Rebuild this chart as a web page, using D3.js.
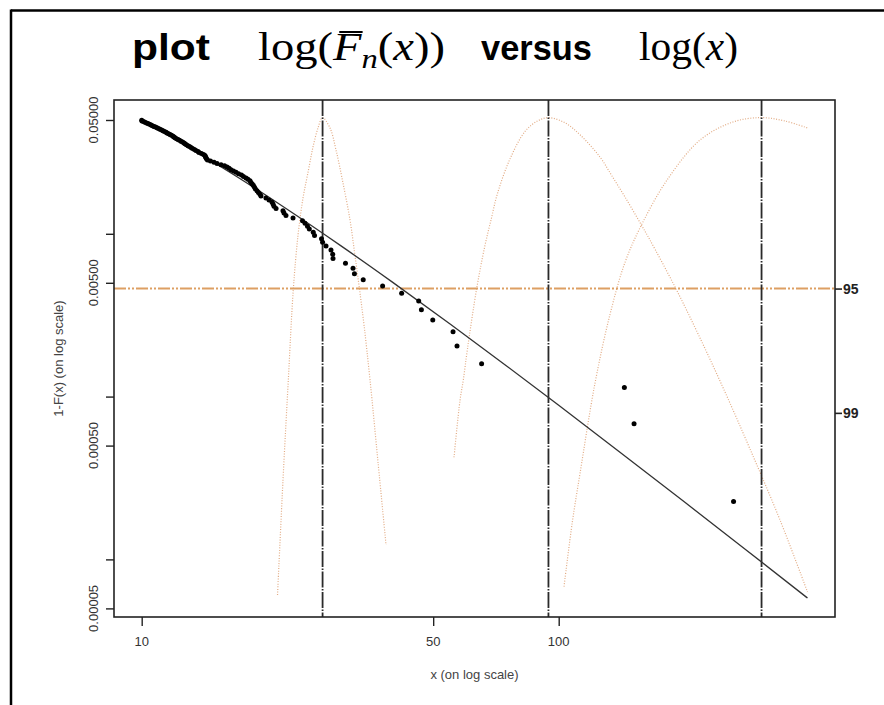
<!DOCTYPE html>
<html><head><meta charset="utf-8">
<script src="https://cdn.jsdelivr.net/npm/d3@7"></script>
<style>body{margin:0;background:#fff}svg{display:block}</style>
</head><body>
<svg id="c" width="884" height="705"></svg>
<script>
// ---------------- data ----------------
// exceedances (ascending) and their empirical tail probabilities 1-F(x)
const exceedX = [10.0,10.02,10.10,10.18,10.27,10.35,10.44,10.53,10.61,10.70,
  10.79,10.88,10.97,11.06,11.16,11.25,11.34,11.44,11.50,11.60,
  11.69,11.79,11.89,11.95,12.02,12.12,12.22,12.32,12.42,12.53,
  12.63,12.70,12.80,12.91,13.02,13.13,13.24,13.38,13.49,13.65,
  13.72,13.91,14.07,14.18,14.22,14.26,14.30,14.38,14.62,14.91,
  15.16,15.50,15.80,16.02,16.20,16.37,16.60,16.83,17.07,17.35,
  17.54,17.79,17.98,18.18,18.28,18.41,18.54,18.64,18.74,18.90,
  19.05,19.21,19.32,19.86,20.20,20.53,20.65,20.76,21.00,21.82,
  21.94,22.18,23.06,24.30,24.64,24.98,25.23,25.79,25.97,26.99,
  27.15,27.67,28.44,28.71,28.76,30.81,32.12,32.37,33.98,37.82,
  42.01,46.16,46.85,49.89,55.80,57.04,65.33,143.7,151.6,262.6];
const tailProb = [0.049773,0.049318,0.048864,0.048409,0.047955,0.047500,0.047045,0.046591,0.046136,0.045682,
  0.045227,0.044773,0.044318,0.043864,0.043409,0.042955,0.042500,0.042045,0.041591,0.041136,
  0.040682,0.040227,0.039773,0.039318,0.038864,0.038409,0.037955,0.037500,0.037045,0.036591,
  0.036136,0.035682,0.035227,0.034773,0.034318,0.033864,0.033409,0.032955,0.032500,0.032045,
  0.031591,0.031136,0.030682,0.030227,0.029773,0.029318,0.028864,0.028409,0.027955,0.027500,
  0.027045,0.026591,0.026136,0.025682,0.025227,0.024773,0.024318,0.023864,0.023409,0.022955,
  0.022500,0.022045,0.021591,0.021136,0.020682,0.020227,0.019773,0.019318,0.018864,0.018409,
  0.017955,0.017500,0.017045,0.016591,0.016136,0.015682,0.015227,0.014773,0.014318,0.013864,
  0.013409,0.012955,0.012500,0.012045,0.011591,0.011136,0.010682,0.010227,0.009773,0.009318,
  0.008864,0.008409,0.007955,0.007500,0.007045,0.006591,0.006136,0.005682,0.005227,0.004773,
  0.004318,0.003864,0.003409,0.002955,0.002500,0.002045,0.001591,0.001136,0.000682,0.000227];

// fitted tail curve
const fitX = [10, 13, 17, 22, 30, 40, 55, 75, 100, 140, 200, 280, 395];
const fitP = [0.05, 0.03396, 0.02226, 0.01450, 0.008456, 0.005029, 0.002782, 0.001542, 0.000884, 0.000457, 0.0002258, 0.0001155, 0.0000579];

// quantile estimates (vertical lines)
const quantileX = [27.15, 94.5, 306.5];

// profile log-likelihood curves (relative to maximum)
const prof1X = [21.17,21.82,22.47,23.10,23.71,24.37,25.09,25.75,26.47,27.14,28.29,29.24,30.39,31.59,32.48,33.26,34.13,35.28,36.87,38.54];
const prof1L = [-5.364,-4.072,-2.948,-1.926,-1.319,-0.903,-0.600,-0.330,-0.117,0,-0.117,-0.364,-0.735,-1.151,-1.555,-1.915,-2.330,-2.948,-3.870,-4.802];
const prof2X = [56.10,57.99,59.05,60.44,63.59,66.57,68.81,71.32,76.41,83.04,88.96,94.51,103.5,112.5,125.6,134.2,144.2,157.9,165.5,190.1,218.2,250.5,287.6,339.4,395.0];
const prof2L = [-3.816,-3.176,-2.948,-2.596,-1.918,-1.434,-1.151,-0.852,-0.465,-0.155,-0.038,0,-0.058,-0.193,-0.443,-0.656,-0.892,-1.207,-1.375,-1.903,-2.476,-3.083,-3.724,-4.521,-5.330];
const prof3X = [102.97,107.9,112.5,122.2,132.8,144.2,157.9,181.9,218.2,261.8,306.5,348.9,395.0];
const prof3L = [-5.270,-4.533,-3.997,-2.983,-2.208,-1.627,-1.207,-0.701,-0.252,-0.049,0,-0.038,-0.116];

// confidence levels (right axis)
const confLevels = [-1.9207, -3.3174];
const confLabels = ["95", "99"];

// axes ticks
const yTicks = [0.05, 0.01, 0.005, 0.001, 0.0005, 0.0001, 0.00005];
const yTickLabels = ["0.05000", "", "0.00500", "", "0.00050", "", "0.00005"];
const xTicks = [10, 50, 100];
const xTickLabels = ["10", "50", "100"];

// ---------------- drawing ----------------
const svg = d3.select("#c");
const L = 114, R = 835, T = 100, B = 617;

const x = d3.scaleLog().domain([8.582, 459.8]).range([L, R]);
const y = d3.scaleLog().domain([0.00004427, 0.06634]).range([B, T]);
const yl = d3.scaleLinear().domain([-5.611, 0.198]).range([B, T]);

const sans = "'Liberation Sans', Arial, Helvetica, sans-serif";
const serif = "'Liberation Serif', 'Times New Roman', serif";

// outer frame
svg.append("line").attr("x1", 11).attr("x2", 884).attr("y1", 10.5).attr("y2", 10.5)
  .attr("stroke", "#000").attr("stroke-width", 2.5);
svg.append("line").attr("x1", 11).attr("x2", 11).attr("y1", 9.5).attr("y2", 705)
  .attr("stroke", "#000").attr("stroke-width", 2.5);

// title
function fit(g, x0, x1) {
  const bb = g.node().getBBox();
  const s = (x1 - x0) / bb.width;
  g.attr("transform", `translate(${x0 - bb.x * s},0) scale(${s},1)`);
}
const tg1 = svg.append("g");
tg1.append("text").attr("x", 0).attr("y", 60).attr("font-family", sans).attr("font-weight", "bold")
  .attr("font-size", 37).attr("fill", "#000").text("plot");
fit(tg1, 132, 210);

const tg2 = svg.append("g");
const mt = tg2.append("text").attr("x", 0).attr("y", 60).attr("font-family", serif)
  .attr("font-size", 40).attr("fill", "#000");
mt.append("tspan").text("log(");
mt.append("tspan").attr("font-style", "italic").text("F");
mt.append("tspan").attr("font-style", "italic").attr("font-size", 28).attr("dy", 8).text("n");
mt.append("tspan").attr("dy", -8).text("(");
mt.append("tspan").attr("font-style", "italic").text("x");
mt.append("tspan").text("))");
fit(tg2, 258, 445);
const fe = mt.node().getExtentOfChar(4);
tg2.append("line").attr("x1", fe.x + fe.width * 0.22).attr("x2", fe.x + fe.width + 1)
  .attr("y1", 32).attr("y2", 32).attr("stroke", "#000").attr("stroke-width", 2);

const tg3 = svg.append("g");
tg3.append("text").attr("x", 0).attr("y", 60).attr("font-family", sans).attr("font-weight", "bold")
  .attr("font-size", 35).attr("fill", "#000").text("versus");
fit(tg3, 481, 592);

const tg4 = svg.append("g");
const mt2 = tg4.append("text").attr("x", 0).attr("y", 60).attr("font-family", serif)
  .attr("font-size", 40).attr("fill", "#000");
mt2.append("tspan").text("log(");
mt2.append("tspan").attr("font-style", "italic").text("x");
mt2.append("tspan").text(")");
fit(tg4, 639, 738);

// clip
svg.append("clipPath").attr("id", "clip").append("rect")
  .attr("x", L).attr("y", T).attr("width", R - L).attr("height", B - T);
const plot = svg.append("g").attr("clip-path", "url(#clip)");

// profile likelihood curves
const profColor = "#e2ab84";
[[prof1X, prof1L], [prof2X, prof2L], [prof3X, prof3L]].forEach(([px, pl]) => {
  const pts = px.map((v, i) => [v, pl[i]]);
  plot.append("path")
    .attr("d", d3.line().x(d => x(d[0])).y(d => yl(d[1])).curve(d3.curveCatmullRom.alpha(0.5))(pts))
    .attr("fill", "none").attr("stroke", profColor).attr("stroke-width", 1.2)
    .attr("stroke-dasharray", "1,1.6");
});

// confidence level line (95%)
plot.append("line").attr("x1", L).attr("x2", R)
  .attr("y1", yl(confLevels[0])).attr("y2", yl(confLevels[0]))
  .attr("stroke", "#dd9f63").attr("stroke-width", 2)
  .attr("stroke-dasharray", "12,2,2,2,2,2");

// vertical quantile lines
quantileX.forEach(q => {
  plot.append("line").attr("x1", x(q)).attr("x2", x(q)).attr("y1", T).attr("y2", B)
    .attr("stroke", "#2a2a2a").attr("stroke-width", 1.8)
    .attr("stroke-dasharray", "16,1.5,1.5,1.5");
});

// fitted curve
const fitPts = fitX.map((v, i) => [v, fitP[i]]);
plot.append("path")
  .attr("d", d3.line().x(d => x(d[0])).y(d => y(d[1])).curve(d3.curveMonotoneX)(fitPts))
  .attr("fill", "none").attr("stroke", "#333").attr("stroke-width", 1.3);

// data points
plot.selectAll("circle.pt").data(exceedX.map((v, i) => [v, tailProb[i]]))
  .join("circle").attr("class", "pt")
  .attr("cx", d => x(d[0])).attr("cy", d => y(d[1])).attr("r", 2.5).attr("fill", "#000");

// frame
svg.append("rect").attr("x", L).attr("y", T).attr("width", R - L).attr("height", B - T)
  .attr("fill", "none").attr("stroke", "#222").attr("stroke-width", 1.6);

// left axis
const ya = svg.append("g").attr("transform", `translate(${L},0)`)
  .call(d3.axisLeft(y).tickValues(yTicks).tickSize(8).tickFormat(""));
ya.select(".domain").remove();
ya.selectAll(".tick line").attr("stroke", "#222").attr("stroke-width", 1.4);
yTicks.forEach((t, i) => {
  if (!yTickLabels[i]) return;
  svg.append("text").attr("transform", `translate(98,${y(t)}) rotate(-90)`)
    .attr("text-anchor", "middle").attr("font-family", sans).attr("font-size", 13)
    .attr("fill", "#333").text(yTickLabels[i]);
});
svg.append("text").attr("transform", `translate(63,${(T + B) / 2}) rotate(-90)`)
  .attr("text-anchor", "middle").attr("font-family", sans).attr("font-size", 13)
  .attr("fill", "#444").text("1-F(x) (on log scale)");

// bottom axis
const xa = svg.append("g").attr("transform", `translate(0,${B})`)
  .call(d3.axisBottom(x).tickValues(xTicks).tickSize(9).tickFormat(""));
xa.select(".domain").remove();
xa.selectAll(".tick line").attr("stroke", "#222").attr("stroke-width", 1.4);
xTicks.forEach((t, i) => {
  svg.append("text").attr("x", x(t)).attr("y", 645.5).attr("text-anchor", "middle")
    .attr("font-family", sans).attr("font-size", 13).attr("fill", "#333").text(xTickLabels[i]);
});
svg.append("text").attr("x", (L + R) / 2).attr("y", 679).attr("text-anchor", "middle")
  .attr("font-family", sans).attr("font-size", 13).attr("fill", "#444").text("x (on log scale)");

// right axis (confidence levels)
const ra = svg.append("g").attr("transform", `translate(${R},0)`)
  .call(d3.axisRight(yl).tickValues(confLevels).tickSize(7).tickFormat(""));
ra.select(".domain").remove();
ra.selectAll(".tick line").attr("stroke", "#222").attr("stroke-width", 1.6);
confLevels.forEach((c, i) => {
  svg.append("text").attr("x", 843).attr("y", yl(c) + 5.5)
    .attr("font-family", sans).attr("font-size", 14).attr("font-weight", "bold")
    .attr("fill", "#222").text(confLabels[i]);
});
</script>
</body></html>
